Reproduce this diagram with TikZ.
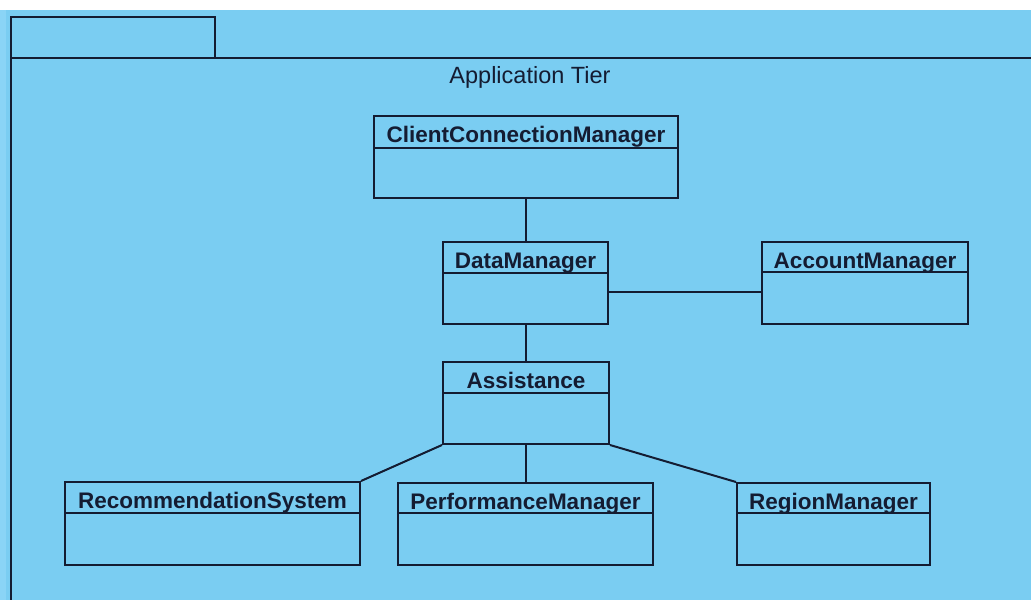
\documentclass[tikz,border=0pt]{standalone}
\usepackage{fontspec}
\setmainfont{Liberation Sans}
\definecolor{pkgblue}{RGB}{122,205,242}
\definecolor{edgeblue}{RGB}{138,212,246}
\definecolor{navy}{RGB}{20,28,50}
\tikzset{
  umlbox/.style={draw=navy, line width=2pt, fill=pkgblue, rectangle, inner sep=0pt},
  umltitle/.style={anchor=base, inner sep=0pt, text=navy, font=\fontsize{22.5}{27}\selectfont\bfseries},
  conn/.style={draw=navy, line width=2pt},
  pkgline/.style={draw=navy, line width=2pt}
}
% \umlclass{name}{x1}{y1}{x2}{y2}{divider y}{title}
\newcommand{\umlclass}[7]{%
  \node[umlbox, minimum width={#4-#2}, minimum height={#5-#3}] (#1) at ({(#2+#4)/2},{(#3+#5)/2}) {};
  \coordinate (#1-dl) at (#2,#6);
  \coordinate (#1-dr) at (#4,#6);
  \draw[conn] (#1-dl) -- (#1-dr);
  \node[umltitle] (#1-t) at ({(#2+#4)/2},{#3+26}) {#7};
}
\begin{document}
\begin{tikzpicture}[x=1pt,y=-1pt]
\useasboundingbox (0,0) rectangle (1031,600);
\fill[white] (0,0) rectangle (1031,10);
\fill[pkgblue] (0,10) rectangle (1031,600);
\fill[edgeblue] (0,10) rectangle (6,600);
% package
\node[draw=navy, line width=2pt, fill=pkgblue, minimum width=204, minimum height=41, inner sep=0pt] (tab) at (113,37.5) {};
\coordinate (pkgtr) at (1031,58);
\coordinate (pkgbl) at (11,600);
\draw[pkgline] (pkgtr) -| (pkgbl);
\node[anchor=base, inner sep=0pt, text=navy, font=\fontsize{23.5}{28}\selectfont] (pkglabel) at (530,83.5) {Application Tier};
% classes
\umlclass{ccm}{374}{116}{678}{198}{148}{ClientConnectionManager}
\umlclass{dm}{443}{242}{608}{324}{273}{DataManager}
\umlclass{am}{762}{242}{968}{324}{272}{AccountManager}
\umlclass{as}{443}{362}{609}{444}{393}{Assistance}
\umlclass{rs}{65}{482}{360}{565}{513}{RecommendationSystem}
\umlclass{pm}{398}{483}{653}{565}{513}{PerformanceManager}
\umlclass{rm}{737}{483}{930}{565}{513}{RegionManager}
% connectors
\draw[conn] (ccm.south) -- (ccm.south |- dm.north);
\draw[conn] (dm.east |- 0,292) -- (am.west |- 0,292);
\draw[conn] (dm.south) -- (dm.south |- as.north);
\draw[conn] (as.south west) -- (rs.north east);
\draw[conn] (as.south -| pm.north) -- (pm.north);
\draw[conn] (as.south east) -- (rm.north west);
\end{tikzpicture}
\end{document}
